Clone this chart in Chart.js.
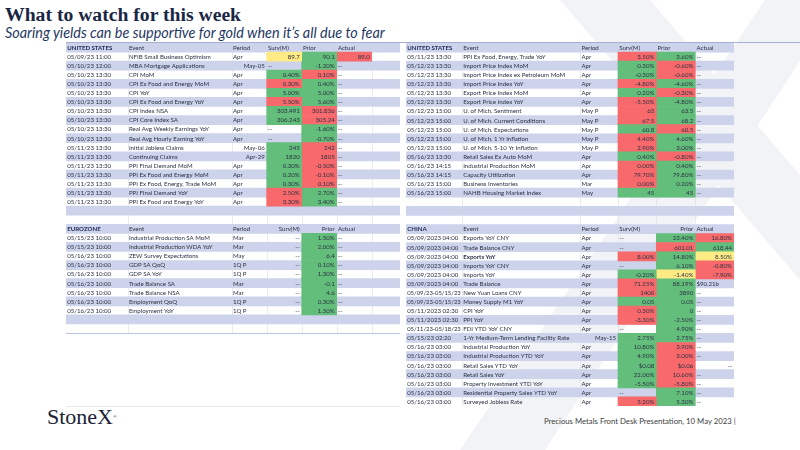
<!DOCTYPE html>
<html><head><meta charset="utf-8">
<script src="https://cdn.jsdelivr.net/npm/chart.js@4.4.0/dist/chart.umd.min.js"></script>
<style>
html,body{margin:0;padding:0;background:#fff;}
body{width:800px;height:450px;position:relative;overflow:hidden;font-family:Lato,sans-serif;}
.abs{position:absolute;white-space:nowrap;}
#wm{position:absolute;left:0;top:0;}
#title{left:5px;top:2px;font-family:'Liberation Serif',serif;font-weight:bold;font-size:20px;color:#1a2744;line-height:24px;}
#sub{left:5px;top:24px;font-family:Lato,sans-serif;font-style:italic;font-size:13px;color:#1f3864;line-height:17px;}
#rule{position:absolute;left:66px;top:42px;width:734px;height:1px;background:#a3b0d3;}
#footer{top:415px;font-family:Lato,sans-serif;font-size:8px;color:#404040;line-height:12px;}
#logo{left:47px;top:404px;font-family:'Liberation Serif',serif;font-size:22px;color:#1a1f36;line-height:26px;}
#cl{position:absolute;left:66px;top:43px;}
#cr{position:absolute;left:406px;top:43px;}
#botline{position:absolute;left:66px;top:333px;width:334px;height:1px;background:#b9c3df;}
#botline2{position:absolute;left:66px;top:406px;width:334px;height:1px;background:#e4e6ea;}
</style></head>
<body>
<svg id="wm" width="800" height="450">
  <polygon points="560,0 650,0 800,175 800,280" fill="#f2f3f6"/>
  <polygon points="765,0 840,0 545,450 460,450" fill="#f2f3f6"/>
</svg>
<div id="title" class="abs">What to watch for this week</div>
<div id="sub" class="abs">Soaring yields can be supportive for gold when it’s all due to fear</div>
<div id="rule"></div>
<canvas id="cl" width="334" height="290"></canvas>
<canvas id="cr" width="328" height="363"></canvas>
<div id="botline"></div>
<div id="botline2"></div>
<div id="logo" class="abs">StoneX<span style="font-size:5px;vertical-align:top;">®</span></div>
<div id="footer" class="abs">Precious Metals Front Desk Presentation, 10 May 2023 |</div>
<script>
// ---------------- DATA ----------------
// United States (left)
const usLeftDates = ["05/09/23 11:00","05/10/23 12:00","05/10/23 13:30","05/10/23 13:30","05/10/23 13:30","05/10/23 13:30","05/10/23 13:30","05/10/23 13:30","05/10/23 13:30","05/10/23 13:30","05/11/23 13:30","05/11/23 13:30","05/11/23 13:30","05/11/23 13:30","05/11/23 13:30","05/11/23 13:30","05/11/23 13:30"];
const usLeftEvents = ["NFIB Small Business Optimism","MBA Mortgage Applications","CPI MoM","CPI Ex Food and Energy MoM","CPI YoY","CPI Ex Food and Energy YoY","CPI Index NSA","CPI Core Index SA","Real Avg Weekly Earnings YoY","Real Avg Hourly Earning YoY","Initial Jobless Claims","Continuing Claims","PPI Final Demand MoM","PPI Ex Food and Energy MoM","PPI Ex Food, Energy, Trade MoM","PPI Final Demand YoY","PPI Ex Food and Energy YoY"];
const usLeftPeriods = ["Apr","May-05","Apr","Apr","Apr","Apr","Apr","Apr","Apr","Apr","May-06","Apr-29","Apr","Apr","Apr","Apr","Apr"];
const usLeftSurv = ["89.7","--","0.40%","0.30%","5.00%","5.50%","303.491","306.243","--","--","245","1820","0.30%","0.20%","0.30%","2.50%","3.30%"];
const usLeftPrior = ["90.1","-1.20%","0.10%","0.40%","5.00%","5.60%","301.836","305.24","-1.60%","-0.70%","242","1805","-0.50%","-0.10%","0.10%","2.70%","3.40%"];
const usLeftActual = ["89.0","--","--","--","--","--","--","--","--","--","--","--","--","--","--","--","--"];
const usLeftSurvRank = ["mid",null,"high","low","high","low","high","high",null,null,"high","high","high","high","high","low","low"];
const usLeftPriorRank = ["high","high","low","high","high","high","low","low","high","high","low","low","low","low","low","high","high"];
const usLeftActualRank = ["low",null,null,null,null,null,null,null,null,null,null,null,null,null,null,null,null];

// Eurozone
const ezDates = ["05/15/23 10:00","05/15/23 10:00","05/16/23 10:00","05/16/23 10:00","05/16/23 10:00","05/16/23 10:00","05/16/23 10:00","05/16/23 10:00","05/16/23 10:00"];
const ezEvents = ["Industrial Production SA MoM","Industrial Production WDA YoY","ZEW Survey Expectations","GDP SA QoQ","GDP SA YoY","Trade Balance SA","Trade Balance NSA","Employment QoQ","Employment YoY"];
const ezPeriods = ["Mar","Mar","May","1Q P","1Q P","Mar","Mar","1Q P","1Q P"];
const ezSurv = ["--","--","--","--","--","--","--","--","--"];
const ezPrior = ["1.50%","2.00%","6.4","0.10%","1.30%","-0.1","4.6","0.30%","1.50%"];
const ezActual = ["--","--","--","--","--","--","--","--","--"];
const ezSurvRank = [null,null,null,null,null,null,null,null,null];
const ezPriorRank = ["high","high","high","high","high","high","high","high","high"];
const ezActualRank = [null,null,null,null,null,null,null,null,null];

// United States (right)
const usRightDates = ["05/11/23 13:30","05/12/23 13:30","05/12/23 13:30","05/12/23 13:30","05/12/23 13:30","05/12/23 13:30","05/12/23 15:00","05/12/23 15:00","05/12/23 15:00","05/12/23 15:00","05/12/23 15:00","05/16/23 13:30","05/16/23 14:15","05/16/23 14:15","05/16/23 15:00","05/16/23 15:00"];
const usRightEvents = ["PPI Ex Food, Energy, Trade YoY","Import Price Index MoM","Import Price Index ex Petroleum MoM","Import Price Index YoY","Export Price Index MoM","Export Price Index YoY","U. of Mich. Sentiment","U. of Mich. Current Conditions","U. of Mich. Expectations","U. of Mich. 1 Yr Inflation","U. of Mich. 5-10 Yr Inflation","Retail Sales Ex Auto MoM","Industrial Production MoM","Capacity Utilization","Business Inventories","NAHB Housing Market Index"];
const usRightPeriods = ["Apr","Apr","Apr","Apr","Apr","Apr","May P","May P","May P","May P","May P","Apr","Apr","Apr","Mar","May"];
const usRightSurv = ["3.50%","0.30%","-0.30%","-4.80%","0.20%","-5.50%","63","67.5","60.8","4.40%","2.90%","0.40%","0.00%","79.70%","0.00%","45"];
const usRightPrior = ["3.60%","-0.60%","-0.60%","-4.60%","-0.30%","-4.80%","63.5","68.2","60.5","4.60%","3.00%","-0.80%","0.40%","79.80%","0.20%","45"];
const usRightActual = ["--","--","--","--","--","--","--","--","--","--","--","--","--","--","--","--"];
const usRightSurvRank = ["low","high","high","low","high","low","low","low","high","low","low","high","low","low","low","high"];
const usRightPriorRank = ["high","low","low","high","low","high","high","high","low","high","high","low","high","high","high","high"];
const usRightActualRank = [null,null,null,null,null,null,null,null,null,null,null,null,null,null,null,null];

// China
const cnDates = ["05/09/2023 04:00","05/09/2023 04:00","05/09/2023 04:00","05/09/2023 04:00","05/09/2023 04:00","05/09/2023 04:00","05/09/23-05/15/23","05/09/23-05/15/23","05/11/2023 02:30","05/11/2023 02:30","05/11/23-05/18/23","05/15/23 02:20","05/16/23 03:00","05/16/23 03:00","05/16/23 03:00","05/16/23 03:00","05/16/23 03:00","05/16/23 03:00","05/16/23 03:00"];
const cnEvents = ["Exports YoY CNY","Trade Balance CNY","Exports YoY","Imports YoY CNY","Imports YoY","Trade Balance","New Yuan Loans CNY","Money Supply M1 YoY","CPI YoY","PPI YoY","FDI YTD YoY CNY","1-Yr Medium-Term Lending Facility Rate","Industrial Production YoY","Industrial Production YTD YoY","Retail Sales YTD YoY","Retail Sales YoY","Property Investment YTD YoY","Residential Property Sales YTD YoY","Surveyed Jobless Rate"];
const cnPeriods = ["Apr","Apr","Apr","Apr","Apr","Apr","Apr","Apr","Apr","Apr","Apr","May-15","Apr","Apr","Apr","Apr","Apr","Apr","Apr"];
const cnSurv = ["--","--","8.00%","--","-0.20%","71.25%","1400","0.05","0.30%","-3.30%","--","2.75%","10.80%","4.90%","$0.08","22.00%","-5.50%","--","5.20%"];
const cnPrior = ["23.40%","601.01","14.80%","6.10%","-1.40%","88.19%","3890","0.05","0","-2.50%","4.90%","2.75%","3.90%","3.00%","$0.06","10.60%","-5.80%","7.10%","5.30%"];
const cnActual = ["16.80%","618.44","8.50%","-0.80%","-7.90%","$90.21b","--","--","--","--","--","--","--","--","--","--","--","--","--"];
const cnSurvRank = [null,null,"low",null,"high","low","low","high","low","low",null,"high","high","high","high","high","high",null,"low"];
const cnPriorRank = ["high","low","high","high","mid","high","high","high","high","high","high","high","low","low","low","low","low","high","high"];
const cnActualRank = ["low","high","mid","low","low",null,null,null,null,null,null,null,null,null,null,null,null,null,null];
const cnBoldEvents = ["Exports YoY"];

// ---------------- STYLE / LAYOUT ----------------
const rankColor = {high:'#63BE7B', low:'#F8696B', mid:'#FFEB84'};
const BAND = '#CCD3EB';
const TXT = '#2b3143';
const HEAD = '#1f2a55';
const FS = 6.1;
const FONT = 'Lato';

const tUSL = {name:'UNITED STATES', head:'us', dash:'left', dates:usLeftDates, events:usLeftEvents, periods:usLeftPeriods, surv:usLeftSurv, prior:usLeftPrior, actual:usLeftActual, survRank:usLeftSurvRank, priorRank:usLeftPriorRank, actualRank:usLeftActualRank, bold:[]};
const tEZ = {name:'EUROZONE', head:'other', dash:'right', dates:ezDates, events:ezEvents, periods:ezPeriods, surv:ezSurv, prior:ezPrior, actual:ezActual, survRank:ezSurvRank, priorRank:ezPriorRank, actualRank:ezActualRank, bold:[]};
const tUSR = {name:'UNITED STATES', head:'us', dash:'left', dates:usRightDates, events:usRightEvents, periods:usRightPeriods, surv:usRightSurv, prior:usRightPrior, actual:usRightActual, survRank:usRightSurvRank, priorRank:usRightPriorRank, actualRank:usRightActualRank, bold:[]};
const tCN = {name:'CHINA', head:'other', dash:'left', dates:cnDates, events:cnEvents, periods:cnPeriods, surv:cnSurv, prior:cnPrior, actual:cnActual, survRank:cnSurvRank, priorRank:cnPriorRank, actualRank:cnActualRank, bold:cnBoldEvents, actualDashRight:[14]};

function buildRows(sections){
  const rows=[];
  sections.forEach(s=>{
    rows.push({kind:'header', t:s.table, band:true});
    const n=s.table.dates.length;
    for(let i=0;i<n+s.blanks;i++) rows.push({kind:i<n?'data':'blank', t:s.table, i, band:i%2===1});
  });
  return rows;
}
const isNum = v => /^-?\$?\d[\d.,]*%?$/.test(v);
const isDateP = v => /^[A-Z][a-z]{2}-\d{2}$/.test(v);

function drawTable(id, sections, bounds){
  const W = bounds[bounds.length-1];
  const rows = buildRows(sections);
  const labels = rows.map((r,k)=>'r'+k);
  const keys = ['surv','prior','actual'];
  const rankOf = (r,key)=> (r.kind==='data' && r.t[key+'Rank']) ? r.t[key+'Rank'][r.i] : null;
  const cellDs = (key,col)=>({
    data: rows.map(r=> rankOf(r,key) ? [bounds[col],bounds[col+1]] : null),
    backgroundColor: rows.map(r=> rankOf(r,key) ? rankColor[rankOf(r,key)] : 'rgba(0,0,0,0)'),
    order:1
  });
  const datasets = [
    {data: rows.map(r=> r.band ? [0,W] : null), backgroundColor: BAND, order:2},
    cellDs('surv',3), cellDs('prior',4), cellDs('actual',5)
  ];
  const textPlugin = {
    id:'tabletext',
    afterDatasetsDraw(chart){
      const ctx = chart.ctx, xs = chart.scales.x, ys = chart.scales.y;
      const rowH = Math.abs(ys.getPixelForValue(1)-ys.getPixelForValue(0));
      const X = v => xs.getPixelForValue(v);
      ctx.save();
      ctx.strokeStyle = '#dcdee3'; ctx.lineWidth = 0.6;
      rows.forEach((r,k)=>{
        if(r.band) return;
        const yc = ys.getPixelForValue(k);
        for(let b=1;b<bounds.length-1;b++){
          const lf = b-1>=3 && b-1<=5 ? rankOf(r,keys[b-4]) : null;
          const rt = b>=3 && b<=5 ? rankOf(r,keys[b-3]) : null;
          if(lf||rt) continue;
          const x = Math.round(X(bounds[b]))+0.5;
          ctx.beginPath(); ctx.moveTo(x,yc-rowH/2); ctx.lineTo(x,yc+rowH/2); ctx.stroke();
        }
      });
      ctx.textBaseline='middle';
      const put = (txt,col,align,bold,color,y,fitCol)=>{
        ctx.font = (bold?'bold ':'')+FS+'px '+FONT;
        ctx.fillStyle = color||TXT;
        const mw = fitCol ? (X(bounds[col+1])-X(bounds[col])-2.5) : undefined;
        if(align==='right'){ctx.textAlign='right'; ctx.fillText(txt, X(bounds[col+1])-2, y);}
        else {ctx.textAlign='left'; if(mw) ctx.fillText(txt, X(bounds[col])+1.2, y, mw); else ctx.fillText(txt, X(bounds[col])+1.2, y);}
      };
      rows.forEach((r,k)=>{
        const y = ys.getPixelForValue(k)+0.4;
        const t = r.t;
        if(r.kind==='header'){
          put(t.name,0,'left',true,HEAD,y,true);
          put('Event',1,'left',false,TXT,y);
          put('Period',2,'left',false,TXT,y);
          if(t.head==='us'){
            put('Surv(M)',3,'left',false,TXT,y);
            put('Prior',4,'left',false,TXT,y);
          } else {
            put('Surv(M)',3,t.dash==='right'?'right':'left',false,TXT,y);
            put('Prior',4,'right',false,TXT,y);
          }
          put('Actual',5,'left',false,TXT,y);
          return;
        }
        if(r.kind!=='data') return;
        const i=r.i;
        put(t.dates[i],0,'left',false,TXT,y,true);
        put(t.events[i],1,'left',t.bold.includes(t.events[i]),TXT,y);
        const p=t.periods[i]; put(p,2,isDateP(p)?'right':'left',false,TXT,y);
        const s=t.surv[i]; put(s,3, s==='--' ? t.dash : (isNum(s)?'right':'left'),false,TXT,y);
        const pr=t.prior[i]; put(pr,4, pr==='--'?'left':'right',false,TXT,y);
        const a=t.actual[i];
        let aa = a==='--' ? 'left' : (isNum(a)?'right':'left');
        if(a==='--' && t.actualDashRight && t.actualDashRight.includes(i)) aa='right';
        put(a,5,aa,false,TXT,y);
      });
      ctx.restore();
    }
  };
  new Chart(document.getElementById(id), {
    type:'bar',
    data:{labels, datasets},
    options:{
      indexAxis:'y', responsive:false, animation:false,
      datasets:{bar:{barPercentage:1, categoryPercentage:1, grouped:false, borderWidth:0, borderSkipped:false}},
      layout:{padding:0},
      plugins:{legend:{display:false}, tooltip:{enabled:false}},
      scales:{
        x:{type:'linear', min:0, max:W, display:false},
        y:{type:'category', display:false, offset:true}
      }
    },
    plugins:[textPlugin]
  });
}

drawTable('cl', [{table:tUSL, blanks:2},{table:tEZ, blanks:2}], [0,61.7,165.7,200.7,235.7,270.7,305.7,334]);
drawTable('cr', [{table:tUSR, blanks:3},{table:tCN, blanks:0}], [0,56,174.3,212,250.3,289.3,328]);

function fit(id, w, left, right){
  const el=document.getElementById(id);
  const fs=parseFloat(getComputedStyle(el).fontSize);
  el.style.fontSize=(fs*w/el.offsetWidth)+'px';
  if(right!==undefined) el.style.left=(right-el.offsetWidth)+'px';
}
fit('title',236);
fit('sub',380);
fit('footer',192,null,736);
fit('logo',70);
</script>
</body></html>
